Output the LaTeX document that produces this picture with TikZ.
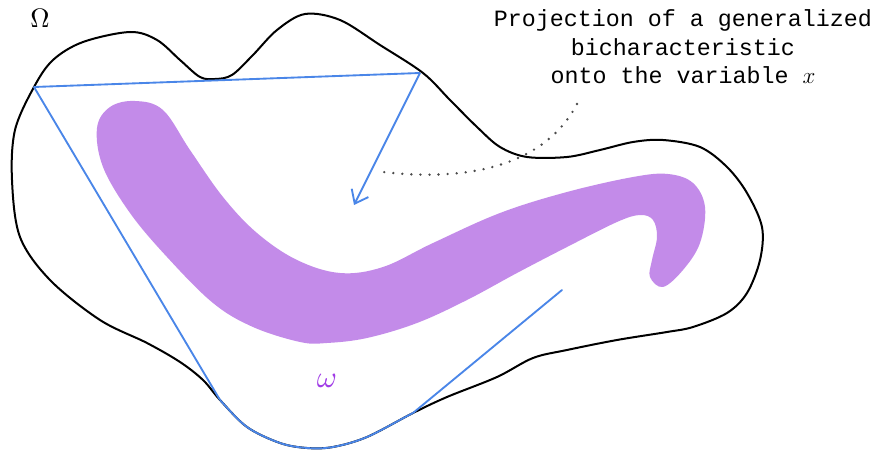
\documentclass[tikz,border=0pt]{standalone}
\usepackage{fontspec}
\usepackage{graphicx}
\newfontfamily\courierfont{Liberation Mono}
\usetikzlibrary{arrows.meta}
\definecolor{bluel}{RGB}{74,134,232}
\definecolor{blobc}{RGB}{195,139,233}
\definecolor{omegac}{RGB}{160,60,230}
\definecolor{dotc}{RGB}{75,75,75}
\tikzset{
  outline/.style={draw=black,line width=1.5pt},
  bichar/.style={draw=bluel,line width=1.4pt},
  blob/.style={fill=blobc,draw=none},
  dotline/.style={draw=dotc,line width=2pt,line cap=round,dash pattern=on 0pt off 6.8pt},
  labeltext/.style={font=\courierfont\fontsize{17.5}{21.4}\selectfont,align=center,text=black}
}
\begin{document}
\begin{tikzpicture}[x=0.75pt,y=-0.75pt]
\useasboundingbox (0,0) rectangle (882,452);
% purple region omega
\fill[blob] plot[smooth cycle,tension=0.6] coordinates {
 (135,101) (163,110) (190,150) (223,197) (257,233) (297,260) (340,273) (383,267)
 (433,243) (500,213) (567,192) (633,177) (668,174) (693,183) (705,207) (700,243)
 (683,270) (663,287) (650,277) (652,260) (657,237) (653,220) (640,215) (617,222)
 (567,247) (517,273) (467,300) (417,323) (367,338) (327,343) (300,342) (253,327)
 (213,303) (167,257) (130,213) (103,167) (97,128) (110,107)};
% outline Omega (stored for reuse)
\def\outlinepath{plot[smooth cycle,tension=0.55] coordinates {
 (34,87) (53,60) (83,42) (130,32) (157,40) (180,60) (200,77) (215,79) (232,75)
 (253,55) (277,30) (305,14) (340,20) (380,45) (423,73) (450,100) (477,127)
 (500,147) (527,157) (567,157) (600,150) (633,142) (663,140) (700,147)
 (727,167) (747,193) (762,227) (760,260) (747,293) (727,313) (693,327)
 (667,332) (617,340) (567,350) (533,358) (497,377) (447,397) (413,413)
 (367,437) (333,447) (307,448) (280,443) (247,427) (220,400) (203,380)
 (180,362) (147,343) (100,320) (50,280) (20,237) (12,180) (15,130)}}
\draw[outline] \outlinepath;
% blue generalized bicharacteristic
\coordinate (p1) at (34,87);
\coordinate (p2) at (420,73);
\coordinate (p3) at (354,205);
\coordinate (q1) at (220,400);
\coordinate (q2) at (413,413);
\coordinate (q3) at (562,290);
\draw[bichar] (p1) -- (p2);
\draw[bichar,-{Straight Barb[length=9pt,width=14pt,line width=1.4pt]}] (p2) -- (p3);
\draw[bichar,line cap=round] (p1) -- (q1);
\draw[bichar,line cap=round] (q2) -- (q3);
\begin{scope}
  \clip (220,300) rectangle (413,460);
  \draw[bichar] \outlinepath;
\end{scope}
% dotted pointer
\coordinate (d1) at (577,104);
\coordinate (d2) at (383,172);
\draw[dotline] (d1) .. controls (545,165) and (470,182) .. (d2);
% labels
\node (Om) at (40,18) {\scalebox{2}{$\Omega$}};
\node[text=omegac] (om) at (327,381) {\scalebox{2.3}{$\omega$}};
\node[labeltext] (lab) at (683,47) {Projection of a generalized\\bicharacteristic\\onto the variable $x$};
\end{tikzpicture}
\end{document}
